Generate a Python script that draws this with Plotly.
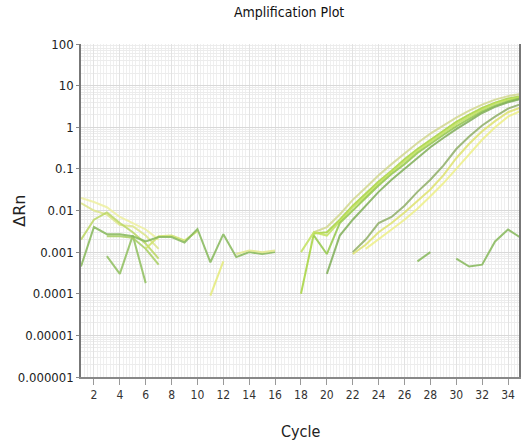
import plotly.graph_objects as go

# ---- data (cycle start, values) ----
noise_a_start, noise_a = 1, [0.00045, 0.004, 0.0027, 0.0027, 0.0024, 0.0018, 0.0023, 0.0023, 0.0017, 0.0036, 0.00057, 0.0027, 0.00076, 0.001, 0.0009, 0.001]
noise_b_start, noise_b = 1, [0.02, 0.016, 0.012, 0.007, 0.005, 0.0035, 0.002]
noise_c_start, noise_c = 1, [0.015, 0.01, 0.008, 0.0045, 0.0042, 0.0025, 0.0012]
noise_d_start, noise_d = 1, [0.002, 0.006, 0.009, 0.005, 0.003, 0.0016, 0.0007]
noise_e_start, noise_e = 3, [0.0008, 0.0003, 0.0025, 0.00018]
noise_f_start, noise_f = 3, [0.0024, 0.0024, 0.0022, 0.0012, 0.0005]
noise_g_start, noise_g = 6, [0.0012, 0.0024, 0.0025, 0.0019, 0.0032]
noise_h_start, noise_h = 11, [0.00009, 0.0006]
noise_i_start, noise_i = 13, [0.0009, 0.0011, 0.001, 0.0011]
noise_j_start, noise_j = 27, [0.0006, 0.001]
noise_k_start, noise_k = 30, [0.0007, 0.00045, 0.0005, 0.0018, 0.0035, 0.0022]

amp_u1_start, amp_u1 = 19, [0.003, 0.004, 0.008, 0.018, 0.035, 0.07, 0.13, 0.24, 0.42, 0.7, 1.1, 1.7, 2.5, 3.5, 4.6, 5.6, 6.3]
amp_u2_start, amp_u2 = 18, [0.0001, 0.0028, 0.003, 0.006, 0.013, 0.025, 0.05, 0.09, 0.17, 0.3, 0.5, 0.85, 1.35, 2.0, 2.9, 3.9, 4.9, 5.6]
amp_u3_start, amp_u3 = 18, [0.001, 0.003, 0.0025, 0.0055, 0.012, 0.022, 0.045, 0.085, 0.15, 0.27, 0.45, 0.75, 1.2, 1.8, 2.7, 3.7, 4.6, 5.3]
amp_u4_start, amp_u4 = 19, [0.0025, 0.0009, 0.005, 0.01, 0.02, 0.04, 0.075, 0.13, 0.24, 0.4, 0.65, 1.05, 1.6, 2.4, 3.3, 4.2, 5.0]
amp_u5_start, amp_u5 = 20, [0.0003, 0.0025, 0.006, 0.013, 0.028, 0.055, 0.1, 0.19, 0.33, 0.55, 0.9, 1.4, 2.2, 3.1, 4.0, 4.8]
amp_l1_start, amp_l1 = 22, [0.001, 0.002, 0.005, 0.007, 0.013, 0.028, 0.055, 0.12, 0.3, 0.6, 1.1, 1.8, 2.8, 3.6]
amp_l2_start, amp_l2 = 22, [0.0009, 0.0015, 0.003, 0.005, 0.009, 0.017, 0.032, 0.07, 0.18, 0.4, 0.8, 1.4, 2.3, 3.0]
amp_l3_start, amp_l3 = 23, [0.0012, 0.002, 0.0035, 0.006, 0.011, 0.022, 0.045, 0.1, 0.22, 0.5, 1.0, 1.8, 2.5]

y_tickvals = [100, 10, 1, 0.1, 0.01, 0.001, 0.0001, 0.00001, 0.000001]
y_ticktext = ["100", "10", "1", "0.1", "0.01", "0.001", "0.0001", "0.00001", "0.000001"]
x_tickvals = list(range(2, 36, 2))

series = [
    (noise_b_start, noise_b, "#eef0a0"),
    (noise_c_start, noise_c, "#dde68a"),
    (noise_d_start, noise_d, "#bcd864"),
    (noise_e_start, noise_e, "#8fbf5e"),
    (noise_f_start, noise_f, "#a8cf62"),
    (noise_g_start, noise_g, "#cfe36c"),
    (noise_a_start, noise_a, "#86b85a"),
    (noise_h_start, noise_h, "#e5eb7a"),
    (noise_i_start, noise_i, "#e2e98a"),
    (noise_j_start, noise_j, "#86b85a"),
    (noise_k_start, noise_k, "#86b85a"),
    (amp_u1_start, amp_u1, "#d2d890"),
    (amp_u2_start, amp_u2, "#a6d43e"),
    (amp_u3_start, amp_u3, "#c2e25e"),
    (amp_u4_start, amp_u4, "#94c84a"),
    (amp_u5_start, amp_u5, "#7fae58"),
    (amp_l1_start, amp_l1, "#8fae66"),
    (amp_l2_start, amp_l2, "#dfe36e"),
    (amp_l3_start, amp_l3, "#eef088"),
]

fig = go.Figure()
for start, vals, color in series:
    fig.add_trace(go.Scatter(
        x=list(range(start, start + len(vals))), y=vals, mode="lines",
        line=dict(color=color, width=2), opacity=0.85,
        showlegend=False, hoverinfo="skip"))

font_narrow = "DejaVu Sans Condensed, Liberation Sans, sans-serif"

fig.update_layout(
    width=521, height=446,
    margin=dict(l=81, r=0, t=44, b=69),
    paper_bgcolor="white", plot_bgcolor="white",
    title=dict(text="Amplification Plot", x=0.555, xanchor="center", y=0.972, yanchor="middle",
               font=dict(family=font_narrow, size=14, color="#111")),
    font=dict(family=font_narrow, color="#222"),
    annotations=[
        dict(text="Cycle", xref="paper", yref="paper", x=0.5, y=-0.165, xanchor="center", yanchor="middle",
             showarrow=False, font=dict(family=font_narrow, size=16, color="#222")),
        dict(text="ΔRn", xref="paper", yref="paper", x=-0.141, y=0.5, xanchor="center", yanchor="middle",
             textangle=-90, showarrow=False, font=dict(family="DejaVu Sans, sans-serif", size=16, color="#222")),
    ],
)
fig.update_xaxes(
    range=[1, 34.85], tickvals=x_tickvals, ticks="outside", ticklen=6, tickcolor="#999",
    tickfont=dict(family=font_narrow, size=12, color="#333"),
    showline=True, linecolor="#888", linewidth=1.5, mirror=False,
    showgrid=True, gridcolor="#e2e2e2", gridwidth=1,
    minor=dict(dtick=0.25, tick0=1, showgrid=True, gridcolor="#efefef", gridwidth=1),
    zeroline=False,
)
fig.update_yaxes(
    type="log", range=[-6, 2], tickvals=y_tickvals, ticktext=y_ticktext,
    ticks="outside", ticklen=3, tickcolor="#888",
    tickfont=dict(family=font_narrow, size=13, color="#222"),
    showline=True, linecolor="#777", linewidth=1.5, mirror=True,
    showgrid=True, gridcolor="#d8d8d8", gridwidth=1,
    minor=dict(dtick="D1", showgrid=True, gridcolor="#ececec", gridwidth=1),
    zeroline=False,
)

fig.write_html("out.html")
